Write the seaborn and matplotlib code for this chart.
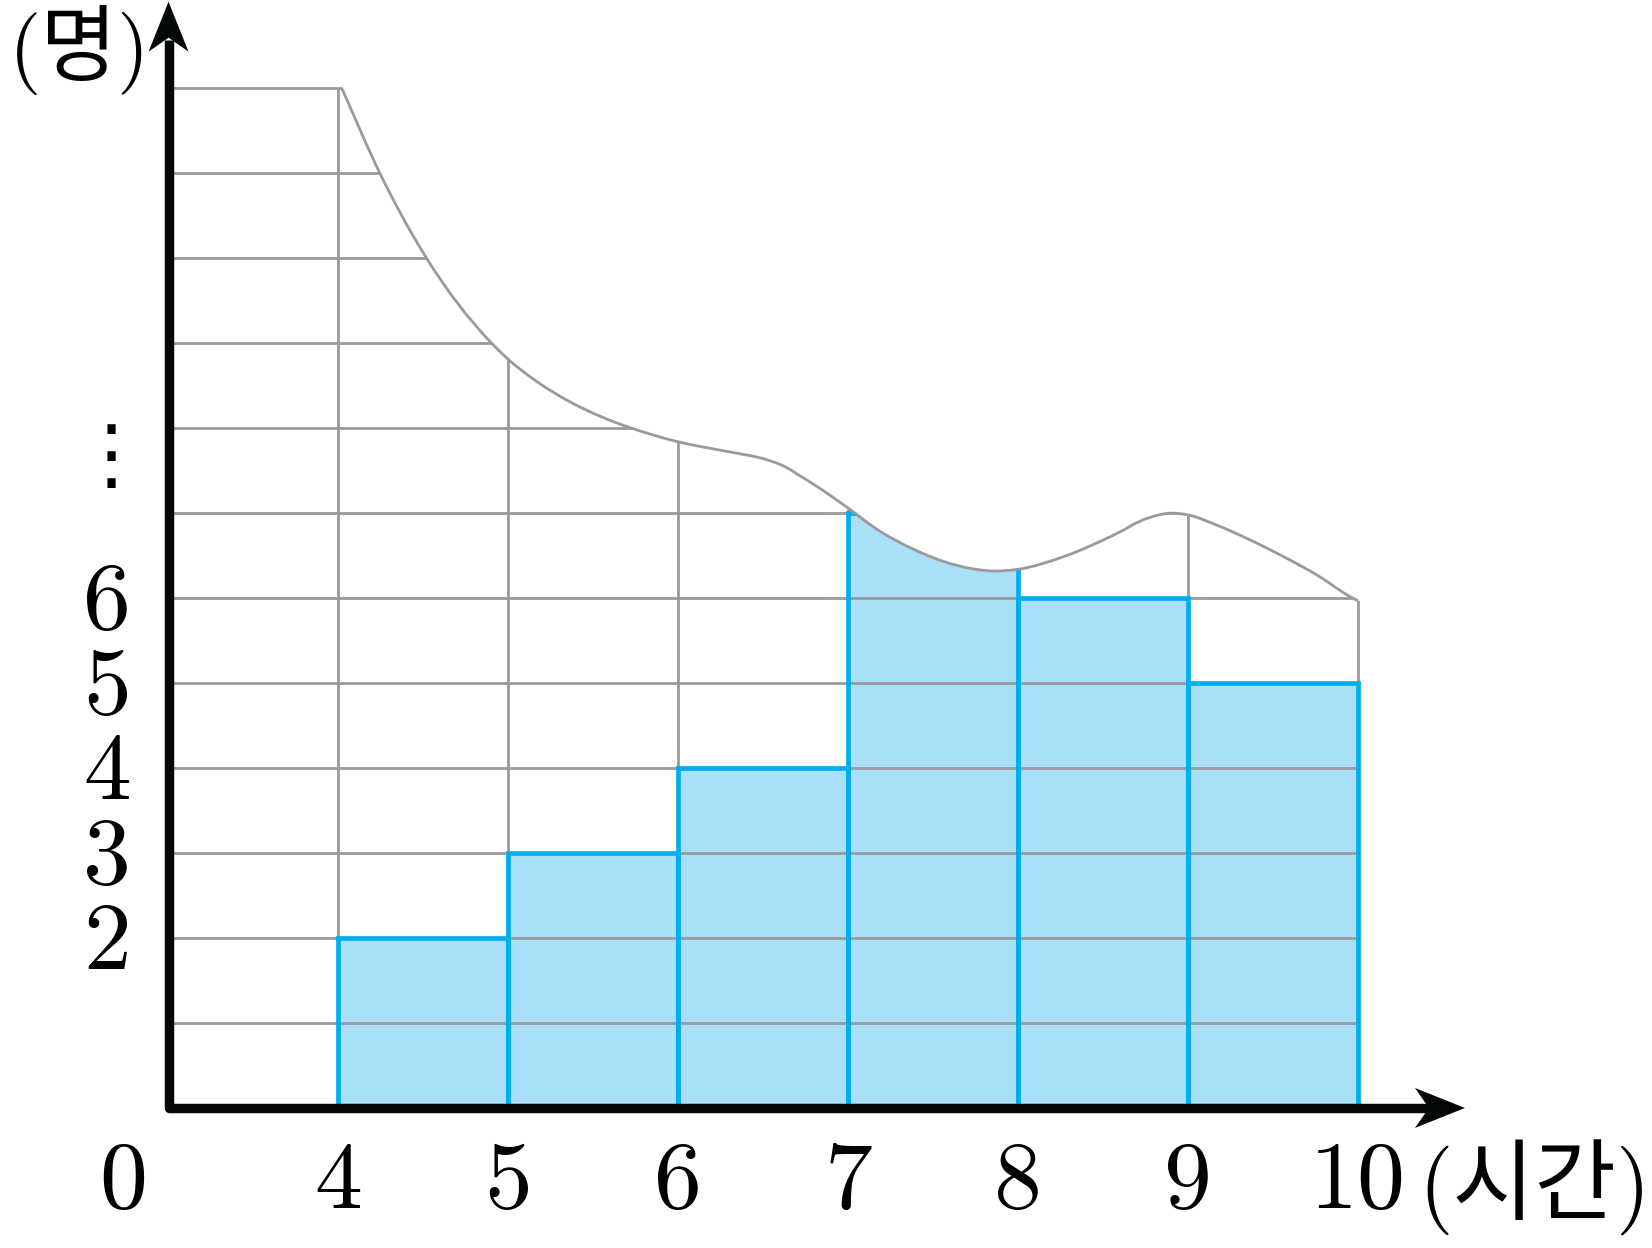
import numpy as np
import pandas as pd
import matplotlib
matplotlib.use("Agg")
import matplotlib.pyplot as plt
import seaborn as sns
from matplotlib.patches import Polygon, PathPatch
from matplotlib.path import Path

# ---------------- data ----------------
hours = [4, 5, 6, 7, 8, 9]          # left edge of each class
counts = [2, 3, 4, 7, 6, 5]         # number of people
bin_edges = [4, 5, 6, 7, 8, 9, 10]
x_tick_values = [4, 5, 6, 7, 8, 9, 10]
x_tick_labels = ["4", "5", "6", "7", "8", "9", "10"]
y_tick_values = [2, 3, 4, 5, 6]
y_tick_labels = ["2", "3", "4", "5", "6"]
grid_rows = list(range(1, 12))
origin_label = "0"
x_unit = "(시간)"
y_unit = "(명)"

# torn-edge curve that hides the upper part of the chart
curve_x = [4.02, 4.244, 4.519, 4.902, 5.0, 5.167, 5.363, 5.559,
           5.853, 6.0, 6.13, 6.32, 6.52, 6.64, 6.70, 6.82, 7.0, 7.17, 7.38, 7.58, 7.72,
           7.85, 8.0, 8.27, 8.56, 8.76, 8.90, 9.0, 9.169, 9.365, 9.561, 9.758,
           9.954, 10.0]
curve_y = [12.0, 11.0, 10.0, 9.0, 8.81, 8.55, 8.31, 8.125,
           7.92, 7.84, 7.785, 7.715, 7.63, 7.535, 7.46, 7.31, 7.06, 6.81, 6.58, 6.42, 6.35,
           6.32, 6.34, 6.49, 6.74, 6.94, 7.0, 6.98, 6.86, 6.686, 6.49, 6.274,
           6.018, 5.97]
top_row = 12

df = pd.DataFrame({"hour": hours, "count": counts})

# ---------------- style ----------------
sns.set_theme(style="white")
plt.rcParams["font.family"] = ["cmr10", "Noto Sans CJK KR", "DejaVu Sans"]

FILL = "#AADFF8"
EDGE = "#00AEEF"
GRID = "#9A9A9C"
AXIS = "#050808"

W, H = 1652, 1248
fig = plt.figure(figsize=(W / 100, H / 100), dpi=100)
ax = fig.add_axes([0, 0, 1, 1])
XL = (2.008, 11.731)
YL = (-1.648, 13.04)
ax.set_xlim(*XL)
ax.set_ylim(*YL)
ax.axis("off")
sx = (XL[1] - XL[0]) / W
sy = (YL[1] - YL[0]) / H

# smooth Bezier path through the read curve points (cubic Hermite tangents)
cx = np.asarray(curve_x, float)
cy = np.asarray(curve_y, float)
h = np.diff(cx)
d = np.diff(cy) / h
m = np.empty_like(cx)
m[0], m[-1] = d[0], d[-1]
m[1:-1] = (h[1:] * d[:-1] + h[:-1] * d[1:]) / (h[:-1] + h[1:])
curve_verts = [(cx[0], cy[0])]
curve_codes = [Path.MOVETO]
for i in range(len(cx) - 1):
    t = h[i] / 3.0
    curve_verts += [(cx[i] + t, cy[i] + m[i] * t),
                    (cx[i + 1] - t, cy[i + 1] - m[i + 1] * t),
                    (cx[i + 1], cy[i + 1])]
    curve_codes += [Path.CURVE4] * 3

end_x, end_y = curve_x[-1], curve_y[-1]
clip_verts = [(2.95, top_row)] + curve_verts + [(end_x + 0.05, end_y), (end_x + 0.05, -0.1),
                                               (2.95, -0.1), (2.95, top_row)]
clip_codes = [Path.MOVETO, Path.LINETO] + curve_codes[1:] + [Path.LINETO] * 4
clip_patch = PathPatch(Path(clip_verts, clip_codes), transform=ax.transData)

# bars (fill)
sns.histplot(data=df, x="hour", weights="count", bins=bin_edges, ax=ax,
             color=FILL, alpha=1, linewidth=0, zorder=1)
# grid
hl = ax.hlines(grid_rows, 3, 10, color=GRID, lw=2.0, zorder=2)
vl = ax.vlines(x_tick_values, 0, top_row, color=GRID, lw=2.0, zorder=2)
ax.hlines([top_row], 3, curve_x[0], color=GRID, lw=2.0, zorder=2)
# bar outlines
sns.histplot(data=df, x="hour", weights="count", bins=bin_edges, ax=ax,
             fill=False, color=EDGE, linewidth=3.4, zorder=3)

hl.set_clip_path(clip_patch)
vl.set_clip_path(clip_patch)
for p in ax.patches:
    p.set_clip_path(clip_patch)

# torn-edge outline
ax.add_patch(PathPatch(Path(curve_verts, curve_codes), fill=False, edgecolor=GRID,
                       lw=2.0, zorder=5))

# axes lines
y_notch = 12.57
x_notch = 10.424
ax.plot([3, 3, x_notch], [y_notch, 0, 0], color=AXIS, lw=6.8,
        solid_joinstyle="round", solid_capstyle="butt", zorder=6)

L, HW, N = 50, 20, 14
ytip = (3.0, 13.02)
ax.add_patch(Polygon([ytip, (3 - HW * sx, ytip[1] - L * sy), (3, ytip[1] - (L - N) * sy),
                      (3 + HW * sx, ytip[1] - L * sy)], closed=True, color=AXIS, lw=0, zorder=7))
xtip = (10.630, 0.0)
ax.add_patch(Polygon([xtip, (xtip[0] - L * sx, HW * sy), (xtip[0] - (L - N) * sx, 0),
                      (xtip[0] - L * sx, -HW * sy)], closed=True, color=AXIS, lw=0, zorder=7))

# labels
FS = 69
for v, t in zip(x_tick_values, x_tick_labels):
    ax.text(v, -0.9, t, ha="center", va="center", fontsize=FS, color="black", zorder=8)
ax.text(2.733, -0.9, origin_label, ha="center", va="center", fontsize=FS, color="black")
for v, t in zip(y_tick_values, y_tick_labels):
    ax.text(2.637, v - 0.085, t, ha="center", va="center", fontsize=FS, color="black")
ax.text(2.661, 7.64, "⋮", ha="center", va="center", fontsize=57, color="black",
        family=["DejaVu Sans"])
ax.text(10.354, -0.937, x_unit, ha="left", va="center", fontsize=64, color="black")
ax.text(2.478, 12.45, y_unit, ha="center", va="center", fontsize=60, color="black")

fig.savefig("out.png", dpi=100)
